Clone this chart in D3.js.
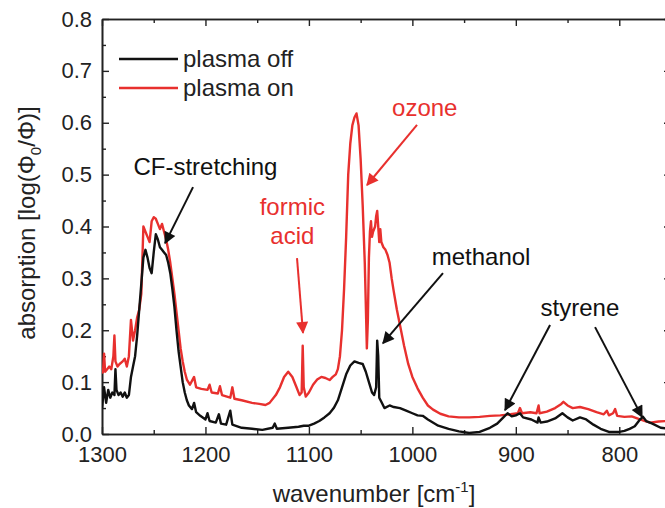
<!DOCTYPE html>
<html>
<head>
<meta charset="utf-8">
<script src="https://cdn.jsdelivr.net/npm/d3@7"></script>
<style>
  body { margin: 0; background: #fff; }
  svg { font-family: "Liberation Sans", Arial, sans-serif; }
</style>
</head>
<body>
<svg id="chart" width="665" height="508"></svg>
<script>
// plasma off spectrum (wavenumber, absorption)
const wnOff = [1300, 1298, 1296, 1294, 1292, 1290, 1288, 1287, 1286, 1284, 1282, 1280, 1278, 1276, 1274,
  1272, 1270, 1268, 1266, 1264, 1262, 1260, 1258, 1256, 1254, 1252, 1250, 1248, 1246, 1244, 1242, 1240,
  1238, 1236, 1234, 1232, 1230, 1228, 1226, 1224, 1222, 1220, 1218, 1216, 1213, 1211, 1209, 1205, 1200,
  1198, 1196, 1190, 1187, 1185, 1180, 1176, 1174, 1165, 1155, 1145, 1135, 1133, 1131, 1120, 1110, 1105,
  1100, 1095, 1090, 1085, 1080, 1076, 1072, 1068, 1064, 1060, 1056, 1052, 1048, 1045, 1042, 1039, 1037,
  1035, 1034, 1033, 1032, 1030, 1027, 1022, 1018, 1012, 1006, 1000, 995, 990, 985, 975, 965, 955, 945,
  935, 925, 918, 912, 908, 904, 900, 896, 893, 885, 879, 878, 876, 870, 862, 855, 850, 845, 838, 832,
  825, 818, 810, 800, 795, 790, 785, 780, 777, 774, 768, 760, 752];
const absOff = [0.05, 0.09, 0.06, 0.085, 0.07, 0.08, 0.075, 0.125, 0.085, 0.075, 0.08, 0.072, 0.08, 0.07, 0.075,
  0.11, 0.13, 0.15, 0.19, 0.24, 0.29, 0.34, 0.355, 0.34, 0.32, 0.31, 0.35, 0.385, 0.375, 0.36, 0.355, 0.35,
  0.345, 0.33, 0.31, 0.28, 0.245, 0.2, 0.16, 0.13, 0.1, 0.08, 0.065, 0.055, 0.048, 0.06, 0.042, 0.035, 0.028,
  0.04, 0.025, 0.022, 0.038, 0.02, 0.018, 0.045, 0.018, 0.012, 0.01, 0.008, 0.012, 0.02, 0.01, 0.012, 0.014, 0.016,
  0.016, 0.02, 0.025, 0.032, 0.04, 0.05, 0.065, 0.09, 0.115, 0.132, 0.14, 0.137, 0.135, 0.12, 0.1, 0.08, 0.075,
  0.09, 0.18, 0.15, 0.07, 0.062, 0.05, 0.055, 0.052, 0.05, 0.045, 0.04, 0.036, 0.035, 0.028, 0.016, 0.01, 0.005, 0.002,
  0.004, 0.012, 0.02, 0.032, 0.04, 0.034, 0.036, 0.04, 0.032, 0.028, 0.022, 0.032, 0.022, 0.024, 0.03, 0.04, 0.032, 0.026, 0.032, 0.028,
  0.018, 0.01, 0.004, 0.004, 0.006, 0.01, 0.015, 0.028, 0.033, 0.025, 0.02, 0.012, 0.01];

// plasma on spectrum
const wnOn = [1300, 1299, 1298, 1297, 1295, 1293, 1291, 1289, 1288, 1287, 1285, 1283, 1280, 1278, 1276, 1274,
  1272, 1270, 1268, 1266, 1264, 1262, 1260, 1258, 1256, 1254, 1252, 1250, 1248, 1246, 1244, 1242, 1240,
  1238, 1236, 1234, 1232, 1230, 1228, 1226, 1224, 1222, 1220, 1218, 1215, 1211, 1209, 1204, 1198, 1196,
  1194, 1188, 1186, 1184, 1176, 1174, 1172, 1165, 1155, 1148, 1142, 1138, 1132, 1128, 1124, 1120, 1116,
  1112, 1109, 1107, 1106, 1105, 1103, 1100, 1096, 1092, 1088, 1084, 1080, 1077, 1074, 1072, 1070, 1068,
  1066, 1064, 1062, 1060, 1058, 1056, 1054, 1052, 1050, 1048, 1046, 1045, 1044, 1043, 1042, 1041, 1040,
  1039, 1038, 1036, 1035, 1034, 1033, 1032, 1031, 1030, 1028, 1026, 1024, 1022, 1020, 1018, 1015, 1012,
  1008, 1004, 1000, 995, 990, 985, 980, 973, 965, 955, 945, 935, 925, 915, 905, 898, 896, 894, 886, 880,
  878, 877, 870, 862, 856, 854, 850, 845, 838, 830, 822, 815, 812, 810, 806, 804, 802, 795, 788, 780, 775,
  770, 762, 755, 750];
const absOn = [0.117, 0.12, 0.155, 0.12, 0.125, 0.13, 0.125, 0.15, 0.19, 0.14, 0.13, 0.135, 0.14, 0.145, 0.13, 0.15,
  0.22, 0.18, 0.2, 0.225, 0.24, 0.27, 0.4, 0.39, 0.38, 0.37, 0.41, 0.418, 0.415, 0.405, 0.395, 0.405, 0.39,
  0.375, 0.355, 0.33, 0.3, 0.27, 0.235, 0.2, 0.165, 0.14, 0.12, 0.105, 0.095, 0.11, 0.09, 0.087, 0.085, 0.095,
  0.08, 0.078, 0.092, 0.075, 0.07, 0.09, 0.068, 0.065, 0.06, 0.058, 0.056, 0.06, 0.075, 0.09, 0.11, 0.12, 0.11,
  0.09, 0.075, 0.08, 0.17, 0.09, 0.072, 0.08, 0.095, 0.105, 0.11, 0.108, 0.104, 0.11, 0.115, 0.125, 0.15, 0.2,
  0.28, 0.38, 0.5, 0.56, 0.595, 0.61, 0.618, 0.595, 0.53, 0.44, 0.33, 0.25, 0.165, 0.22, 0.34, 0.39, 0.41,
  0.38, 0.39, 0.4, 0.42, 0.43, 0.4, 0.37, 0.395, 0.37, 0.36, 0.355, 0.345, 0.33, 0.3, 0.275, 0.24, 0.21,
  0.17, 0.135, 0.11, 0.088, 0.07, 0.055, 0.047, 0.039, 0.034, 0.032, 0.032, 0.033, 0.035, 0.036, 0.038, 0.04, 0.05, 0.04, 0.042, 0.04,
  0.055, 0.04, 0.043, 0.05, 0.058, 0.062, 0.055, 0.05, 0.052, 0.048, 0.042, 0.038, 0.045, 0.036, 0.04, 0.048, 0.035, 0.033, 0.034, 0.028, 0.025,
  0.022, 0.024, 0.025, 0.026];

const xTicks = [1300, 1200, 1100, 1000, 900, 800];
const yTicks = [0.0, 0.1, 0.2, 0.3, 0.4, 0.5, 0.6, 0.7, 0.8];

const seriesNames = ['plasma off', 'plasma on'];
const seriesColors = ['#111111', '#e8302e'];

// annotation labels (baseline of first line) and arrows (from -> to), in data units
const annotations = [
  { lines: ['CF-stretching'], x: 1200, y: 0.499, color: '#111',
    arrows: [[1212, 0.476, 1239, 0.368]] },
  { lines: ['formic', 'acid'], x: 1116, y: 0.422, color: '#e8302e',
    arrows: [[1111.5, 0.339, 1105.7, 0.195]] },
  { lines: ['ozone'], x: 988, y: 0.613, color: '#e8302e',
    arrows: [[995.5, 0.596, 1043.8, 0.48]] },
  { lines: ['methanol'], x: 933.6, y: 0.326, color: '#111',
    arrows: [[970.4, 0.31, 1028.4, 0.175]] },
  { lines: ['styrene'], x: 838, y: 0.2275, color: '#111',
    arrows: [[866.9, 0.21, 910.4, 0.046], [823.4, 0.206, 778, 0.033]] }
];

const width = 665, height = 508;
const margin = { top: 19, right: -6, bottom: 74, left: 102 };
const plotW = width - margin.left - margin.right;
const plotH = height - margin.top - margin.bottom;
const tickFont = 22;
const labelFont = 24;

const svg = d3.select('#chart');

const x = d3.scaleLinear().domain([1300, 750]).range([0, plotW]);
const y = d3.scaleLinear().domain([0, 0.8]).range([plotH, 0]);

const g = svg.append('g').attr('transform', `translate(${margin.left},${margin.top})`);

g.append('clipPath').attr('id', 'clip')
  .append('rect').attr('width', plotW).attr('height', plotH);

// axes, ticks pointing inward
const xMinor = d3.range(1250, 749, -100);
const yMinor = d3.range(0.05, 0.8, 0.1);

function styleAxis(sel) {
  sel.select('.domain').attr('stroke', '#222').attr('stroke-width', 1.6);
  sel.selectAll('.tick line').attr('stroke', '#222').attr('stroke-width', 1.4);
  sel.selectAll('.tick text').attr('fill', '#222').attr('font-size', tickFont);
}

g.append('g').attr('transform', `translate(0,${plotH})`)
  .call(d3.axisBottom(x).tickValues(xTicks).tickSizeInner(-7).tickSizeOuter(0).tickPadding(12).tickFormat(d3.format('d')))
  .call(styleAxis);
g.append('g').attr('transform', `translate(0,${plotH})`)
  .call(d3.axisBottom(x).tickValues(xMinor).tickSizeInner(-4).tickSizeOuter(0).tickFormat(''))
  .call(styleAxis);
g.append('g')
  .call(d3.axisTop(x).tickValues(xTicks).tickSizeInner(-7).tickSizeOuter(0).tickFormat(''))
  .call(styleAxis);
g.append('g')
  .call(d3.axisTop(x).tickValues(xMinor).tickSizeInner(-4).tickSizeOuter(0).tickFormat(''))
  .call(styleAxis);

g.append('g')
  .call(d3.axisLeft(y).tickValues(yTicks).tickSizeInner(-7).tickSizeOuter(0).tickPadding(10).tickFormat(d3.format('.1f')))
  .call(styleAxis);
g.append('g')
  .call(d3.axisLeft(y).tickValues(yMinor).tickSizeInner(-4).tickSizeOuter(0).tickFormat(''))
  .call(styleAxis);
g.append('g').attr('transform', `translate(${plotW},0)`)
  .call(d3.axisRight(y).tickValues(yTicks).tickSizeInner(-7).tickSizeOuter(0).tickFormat(''))
  .call(styleAxis);
g.append('g').attr('transform', `translate(${plotW},0)`)
  .call(d3.axisRight(y).tickValues(yMinor).tickSizeInner(-4).tickSizeOuter(0).tickFormat(''))
  .call(styleAxis);

// axis titles
const xTitle = svg.append('text')
  .attr('x', 374).attr('y', 502)
  .attr('text-anchor', 'middle').attr('font-size', labelFont).attr('fill', '#222');
xTitle.append('tspan').text('wavenumber [cm');
xTitle.append('tspan').attr('dy', -10).attr('font-size', 15).text('-1');
xTitle.append('tspan').attr('dy', 10).text(']');

const yTitle = svg.append('text')
  .attr('transform', 'translate(35,223) rotate(-90)')
  .attr('text-anchor', 'middle').attr('font-size', labelFont).attr('fill', '#222');
yTitle.append('tspan').text('absorption [log(\u03A6');
yTitle.append('tspan').attr('dy', 6).attr('font-size', 15).text('0');
yTitle.append('tspan').attr('dy', -6).text('/\u03A6)]');

// spectra
const line = d3.line().x(d => x(d[0])).y(d => y(d[1]));
const series = [d3.zip(wnOff, absOff), d3.zip(wnOn, absOn)];

const plot = g.append('g').attr('clip-path', 'url(#clip)');
// red drawn first, black on top
[1, 0].forEach(i => {
  plot.append('path')
    .datum(series[i])
    .attr('fill', 'none')
    .attr('stroke', seriesColors[i])
    .attr('stroke-width', 2.4)
    .attr('stroke-linejoin', 'round')
    .attr('d', line);
});

// legend
const legend = g.append('g').attr('transform', 'translate(17,40)');
seriesNames.forEach((name, i) => {
  const row = legend.append('g').attr('transform', `translate(0,${i * 29})`);
  row.append('line').attr('x1', 0).attr('x2', 59)
    .attr('stroke', seriesColors[i]).attr('stroke-width', 2.6);
  row.append('text').attr('x', 64).attr('dy', '0.35em')
    .attr('font-size', labelFont).attr('fill', '#222').text(name);
});

// arrow markers
const defs = svg.append('defs');
['#111', '#e8302e'].forEach((c, i) => {
  defs.append('marker')
    .attr('id', 'arrow' + i)
    .attr('viewBox', '0 0 10 10')
    .attr('refX', 9).attr('refY', 5)
    .attr('markerUnits', 'userSpaceOnUse')
    .attr('markerWidth', 16).attr('markerHeight', 12)
    .attr('orient', 'auto')
    .append('path').attr('d', 'M0,0 L10,5 L0,10 Z').attr('fill', c);
});

annotations.forEach(a => {
  const t = g.append('text')
    .attr('text-anchor', 'middle').attr('font-size', labelFont).attr('fill', a.color);
  a.lines.forEach((l, i) => {
    t.append('tspan').attr('x', x(a.x)).attr('y', y(a.y) + i * 29).text(l);
  });
  const mk = a.color === '#111' ? 'url(#arrow0)' : 'url(#arrow1)';
  a.arrows.forEach(ar => {
    g.append('line')
      .attr('x1', x(ar[0])).attr('y1', y(ar[1]))
      .attr('x2', x(ar[2])).attr('y2', y(ar[3]))
      .attr('stroke', a.color).attr('stroke-width', 2)
      .attr('marker-end', mk);
  });
});
</script>
</body>
</html>
